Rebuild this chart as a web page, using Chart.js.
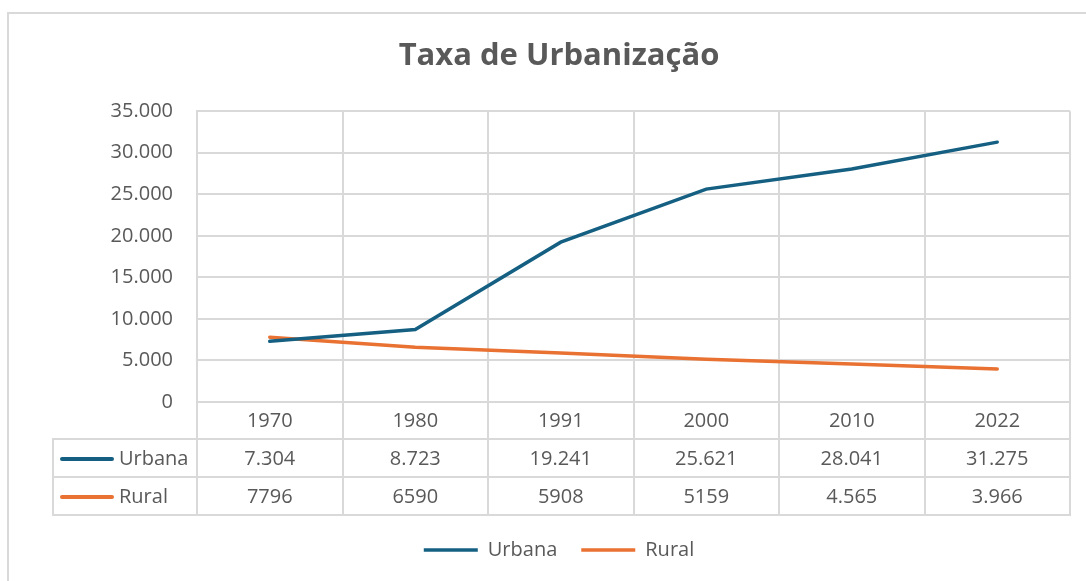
<!DOCTYPE html>
<html>
<head>
<meta charset="utf-8">
<script src="https://cdn.jsdelivr.net/npm/chart.js@4.4.1/dist/chart.umd.min.js"></script>
<style>
    body { margin: 0; background: #fff; font-family: 'Open Sans', sans-serif; }
    #wrap { position: relative; width: 1086px; height: 581px; overflow: hidden; }
    #frame { position: absolute; left: 7px; top: 12px; width: 1200px; height: 700px;
             border-left: 2px solid #d9d9d9; border-top: 2px solid #d9d9d9; }
    #graph { position: absolute; left: 0; top: 0; }
    .cell { position: absolute; box-sizing: border-box; border: 2px solid #d9d9d9;
            color: #595959; font-size: 20px; text-align: center; white-space: nowrap; }
    .head { text-align: left; padding-left: 6px; }
    .mark { display: inline-block; width: 54px; height: 4px; border-radius: 2px;
            vertical-align: middle; margin-right: 5px; position: relative; top: -1px; }
</style>
</head>
<body>
<div id="wrap">
    <div id="frame"></div>
    <canvas id="graph" width="1086" height="581"></canvas>
    <div id="table"></div>
</div>
<script>
'use strict';

const categories = ['1970', '1980', '1991', '2000', '2010', '2022'];
const urbana = [7304, 8723, 19241, 25621, 28041, 31275];
const rural = [7796, 6590, 5908, 5159, 4565, 3966];
// values as printed in the data table
const urbanaText = ['7.304', '8.723', '19.241', '25.621', '28.041', '31.275'];
const ruralText = ['7796', '6590', '5908', '5159', '4.565', '3.966'];

const blue = '#156082';
const orange = '#e97132';
const gray = '#595959';
const gridGray = '#d9d9d9';
const font = 'Open Sans';

function formatThousands(v) {
    return String(v).replace(/\B(?=(\d{3})+(?!\d))/g, '.');
}

const ctx = document.getElementById('graph').getContext('2d');
const chart = new Chart(ctx, {
    type: 'line',
    data: {
        labels: categories,
        datasets: [{
            label: 'Urbana',
            data: urbana,
            borderColor: blue,
            backgroundColor: blue,
            borderWidth: 3.5,
            borderCapStyle: 'round',
            pointRadius: 0,
            pointStyle: 'line',
            tension: 0
        }, {
            label: 'Rural',
            data: rural,
            borderColor: orange,
            backgroundColor: orange,
            borderWidth: 3.5,
            borderCapStyle: 'round',
            pointRadius: 0,
            pointStyle: 'line',
            tension: 0
        }]
    },
    options: {
        responsive: false,
        animation: false,
        events: [],
        layout: {
            padding: { left: 48, right: 16, top: 0, bottom: 11 }
        },
        plugins: {
            title: {
                display: true,
                text: 'Taxa de Urbanização',
                color: gray,
                font: { family: font, size: 31, weight: 'bold' },
                padding: { top: 38, bottom: 36 }
            },
            legend: {
                position: 'bottom',
                labels: {
                    usePointStyle: true,
                    pointStyleWidth: 54,
                    color: gray,
                    font: { family: font, size: 20 },
                    padding: 24
                }
            },
            tooltip: { enabled: false }
        },
        scales: {
            x: {
                offset: true,
                grid: { offset: true, color: gridGray, lineWidth: 2, tickLength: 37, tickColor: gridGray },
                border: { color: gridGray, width: 2 },
                ticks: { color: gray, font: { family: font, size: 20 }, padding: -30 },
                afterFit: scale => { scale.height = 114; }
            },
            y: {
                min: 0,
                max: 35000,
                ticks: {
                    stepSize: 5000,
                    color: gray,
                    font: { family: font, size: 20 },
                    padding: 24,
                    callback: v => formatThousands(v)
                },
                grid: { color: gridGray, lineWidth: 2, drawTicks: false },
                border: { color: gridGray, width: 2 },
                afterFit: scale => { scale.width = 149; }
            }
        }
    }
});

// data table under the axis, columns taken from the chart's own x scale
function buildTable() {
    const area = chart.chartArea;
    const colW = area.width / categories.length;
    const tableLeft = 53;
    const rows = [
        { name: 'Urbana', color: blue, values: urbanaText, top: area.bottom + 37, h: 40 },
        { name: 'Rural', color: orange, values: ruralText, top: area.bottom + 75, h: 40 }
    ];
    const holder = document.getElementById('table');
    rows.forEach(row => {
        const head = document.createElement('div');
        head.className = 'cell head';
        head.style.left = (tableLeft - 1) + 'px';
        head.style.top = (row.top - 1) + 'px';
        head.style.width = (area.left - tableLeft + 2) + 'px';
        head.style.height = row.h + 'px';
        head.style.lineHeight = (row.h - 4) + 'px';
        head.innerHTML = '<span class="mark" style="background:' + row.color + '"></span>' + row.name;
        holder.appendChild(head);

        row.values.forEach((text, i) => {
            const cx = chart.scales.x.getPixelForValue(i);
            const cell = document.createElement('div');
            cell.className = 'cell';
            cell.style.left = (cx - colW / 2 - 1) + 'px';
            cell.style.top = (row.top - 1) + 'px';
            cell.style.width = (colW + 2) + 'px';
            cell.style.height = row.h + 'px';
            cell.style.lineHeight = (row.h - 4) + 'px';
            cell.textContent = text;
            holder.appendChild(cell);
        });
    });
}

buildTable();
</script>
</body>
</html>
